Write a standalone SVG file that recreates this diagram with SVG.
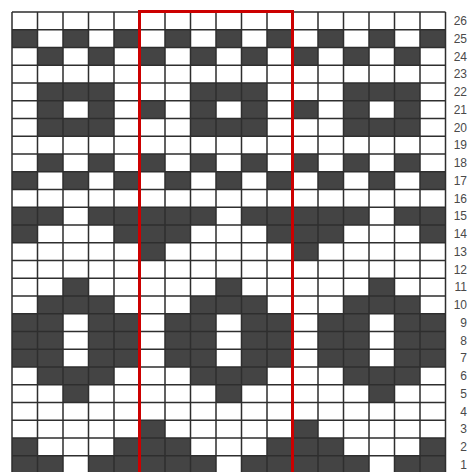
<svg xmlns="http://www.w3.org/2000/svg" width="469" height="472" viewBox="0 0 469 472">
<style>
.d{fill:#444444}
.grid{fill:none;stroke:#2e2e2e;stroke-width:1.5}
.lbl{font-family:"Liberation Sans",Arial,sans-serif;font-size:12px;fill:#4a4a4a;text-anchor:end}
</style>
<defs>
<clipPath id="gridclip"><rect x="12" y="12" width="433.5" height="462"/></clipPath>
<g id="tile">
<rect class="d" x="0" y="29.75" width="25.5" height="17.75"/>
<rect class="d" x="51" y="29.75" width="25.5" height="17.75"/>
<rect class="d" x="102" y="29.75" width="25.5" height="17.75"/>
<rect class="d" x="25.5" y="47.5" width="25.5" height="17.75"/>
<rect class="d" x="76.5" y="47.5" width="25.5" height="17.75"/>
<rect class="d" x="127.5" y="47.5" width="25.5" height="17.75"/>
<rect class="d" x="25.5" y="83" width="76.5" height="17.75"/>
<rect class="d" x="25.5" y="100.75" width="25.5" height="17.75"/>
<rect class="d" x="76.5" y="100.75" width="25.5" height="17.75"/>
<rect class="d" x="127.5" y="100.75" width="25.5" height="17.75"/>
<rect class="d" x="25.5" y="118.5" width="76.5" height="17.75"/>
<rect class="d" x="25.5" y="154" width="25.5" height="17.75"/>
<rect class="d" x="76.5" y="154" width="25.5" height="17.75"/>
<rect class="d" x="127.5" y="154" width="25.5" height="17.75"/>
<rect class="d" x="0" y="171.75" width="25.5" height="17.75"/>
<rect class="d" x="51" y="171.75" width="25.5" height="17.75"/>
<rect class="d" x="102" y="171.75" width="25.5" height="17.75"/>
<rect class="d" x="0" y="207.25" width="51" height="17.75"/>
<rect class="d" x="76.5" y="207.25" width="76.5" height="17.75"/>
<rect class="d" x="0" y="225" width="25.5" height="17.75"/>
<rect class="d" x="102" y="225" width="51" height="17.75"/>
<rect class="d" x="127.5" y="242.75" width="25.5" height="17.75"/>
<rect class="d" x="51" y="278.25" width="25.5" height="17.75"/>
<rect class="d" x="25.5" y="296" width="76.5" height="17.75"/>
<rect class="d" x="0" y="313.75" width="51" height="53.25"/>
<rect class="d" x="76.5" y="313.75" width="51" height="53.25"/>
<rect class="d" x="25.5" y="367" width="76.5" height="17.75"/>
<rect class="d" x="51" y="384.75" width="25.5" height="17.75"/>
<rect class="d" x="127.5" y="420.25" width="25.5" height="17.75"/>
<rect class="d" x="0" y="438" width="25.5" height="17.75"/>
<rect class="d" x="102" y="438" width="51" height="17.75"/>
<rect class="d" x="0" y="455.75" width="51" height="17.75"/>
<rect class="d" x="76.5" y="455.75" width="76.5" height="17.75"/>
</g>
</defs>
<rect x="0" y="0" width="469" height="472" fill="#ffffff"/>
<g id="cells" clip-path="url(#gridclip)">
<use href="#tile" x="12"/>
<use href="#tile" x="165"/>
<use href="#tile" x="318"/>
</g>
<g id="gridlines">
<path class="grid" d="M12 12V474M37.5 12V474M63 12V474M88.5 12V474M114 12V474M139.5 12V474M165 12V474M190.5 12V474M216 12V474M241.5 12V474M267 12V474M292.5 12V474M318 12V474M343.5 12V474M369 12V474M394.5 12V474M420 12V474M445.5 12V474M12 12H445.5M12 29.75H445.5M12 47.5H445.5M12 65.25H445.5M12 83H445.5M12 100.75H445.5M12 118.5H445.5M12 136.25H445.5M12 154H445.5M12 171.75H445.5M12 189.5H445.5M12 207.25H445.5M12 225H445.5M12 242.75H445.5M12 260.5H445.5M12 278.25H445.5M12 296H445.5M12 313.75H445.5M12 331.5H445.5M12 349.25H445.5M12 367H445.5M12 384.75H445.5M12 402.5H445.5M12 420.25H445.5M12 438H445.5M12 455.75H445.5"/>
</g>
<g id="highlight">
<rect x="139.5" y="11.5" width="153" height="470" fill="none" stroke="#cc0000" stroke-width="3"/>
</g>
<g id="labels">
<text class="lbl" x="467" y="25.2">26</text>
<text class="lbl" x="467" y="42.9">25</text>
<text class="lbl" x="467" y="60.7">24</text>
<text class="lbl" x="467" y="78.4">23</text>
<text class="lbl" x="467" y="96.2">22</text>
<text class="lbl" x="467" y="113.9">21</text>
<text class="lbl" x="467" y="131.7">20</text>
<text class="lbl" x="467" y="149.4">19</text>
<text class="lbl" x="467" y="167.2">18</text>
<text class="lbl" x="467" y="184.9">17</text>
<text class="lbl" x="467" y="202.7">16</text>
<text class="lbl" x="467" y="220.4">15</text>
<text class="lbl" x="467" y="238.2">14</text>
<text class="lbl" x="467" y="255.9">13</text>
<text class="lbl" x="467" y="273.7">12</text>
<text class="lbl" x="467" y="291.4">11</text>
<text class="lbl" x="467" y="309.2">10</text>
<text class="lbl" x="467" y="326.9">9</text>
<text class="lbl" x="467" y="344.7">8</text>
<text class="lbl" x="467" y="362.4">7</text>
<text class="lbl" x="467" y="380.2">6</text>
<text class="lbl" x="467" y="397.9">5</text>
<text class="lbl" x="467" y="415.7">4</text>
<text class="lbl" x="467" y="433.4">3</text>
<text class="lbl" x="467" y="451.2">2</text>
<text class="lbl" x="467" y="468.9">1</text>
</g>
</svg>
